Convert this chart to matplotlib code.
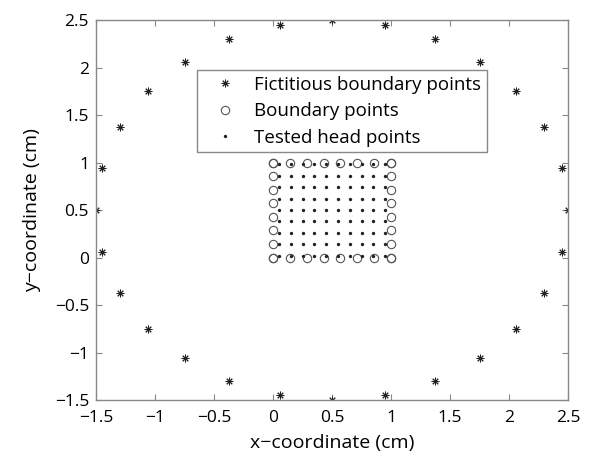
import matplotlib

matplotlib.use("Agg")
import matplotlib.pyplot as plt
import numpy as np

plt.rcParams["font.family"] = ["Open Sans", "DejaVu Sans"]

# fictitious source points around the head region (x, y in cm)
fict_x = [2.50, 2.45, 2.30, 2.06, 1.75, 1.37, 0.945, 0.50, 0.055, -0.37, -0.75, -1.06, -1.30, -1.45,
          -1.50, -1.45, -1.30, -1.06, -0.75, -0.37, 0.055, 0.50, 0.945, 1.37, 1.75, 2.06, 2.30, 2.45]
fict_y = [0.50, 0.945, 1.37, 1.75, 2.06, 2.30, 2.45, 2.50, 2.45, 2.30, 2.06, 1.75, 1.37, 0.945,
          0.50, 0.055, -0.37, -0.75, -1.06, -1.30, -1.45, -1.50, -1.45, -1.30, -1.06, -0.75, -0.37, 0.055]

# collocation points along each side of the unit square
side = [0.0, 0.143, 0.286, 0.429, 0.571, 0.714, 0.857, 1.0]

# interior test grid
head_x = [0.05, 0.15, 0.25, 0.35, 0.45, 0.55, 0.65, 0.75, 0.85, 0.95]
head_y = [0.02, 0.14, 0.26, 0.38, 0.50, 0.62, 0.74, 0.86, 0.98]

tick_vals = [-1.5, -1, -0.5, 0, 0.5, 1, 1.5, 2, 2.5]
tick_text = ["\u22121.5", "\u22121", "\u22120.5", "0", "0.5", "1", "1.5", "2", "2.5"]

bx = side + [1.0] * len(side) + side + [0.0] * len(side)
by = [0.0] * len(side) + side + [1.0] * len(side) + side
hx, hy = np.meshgrid(head_x, head_y)

fig = plt.figure(figsize=(5.98, 4.61), dpi=100)
ax = fig.add_axes([0.1605, 0.1323, 0.7895, 0.8243])

ax.plot(fict_x, fict_y, ls="none", marker=(8, 2, 0), ms=5.5, mew=0.7, color="#222222",
        label="Fictitious boundary points")
ax.plot(bx, by, ls="none", marker="o", ms=6, mfc="none", mew=0.8, color="#555555",
        label="Boundary points")
ax.plot(hx.ravel(), hy.ravel(), ls="none", marker=".", ms=2.8, color="#222222",
        label="Tested head points")

ax.set_xlim(-1.5, 2.5)
ax.set_ylim(-1.5, 2.5)
ax.set_xticks(tick_vals)
ax.set_yticks(tick_vals)
ax.set_xticklabels(tick_text)
ax.set_yticklabels(tick_text)
ax.tick_params(direction="in", length=4, width=0.8, color="#888888", top=True, right=True,
               labelsize=12.5)
ax.tick_params(axis="x", pad=7)
ax.tick_params(axis="y", pad=5)
for s in ax.spines.values():
    s.set_color("#888888")
    s.set_linewidth(1.0)

ax.set_xlabel("x\u2212coordinate (cm)", fontsize=14, labelpad=6)
ax.set_ylabel("y\u2212coordinate (cm)", fontsize=14, labelpad=10)

leg = ax.legend(loc="upper left", bbox_to_anchor=(0.214, 0.868), borderaxespad=0,
                fancybox=False, framealpha=1, edgecolor="#888888", fontsize=13.5,
                handlelength=2.4, handletextpad=0.35, borderpad=0.3, labelspacing=0.45)
leg.get_frame().set_linewidth(1.0)

fig.savefig("out.png", dpi=100)
